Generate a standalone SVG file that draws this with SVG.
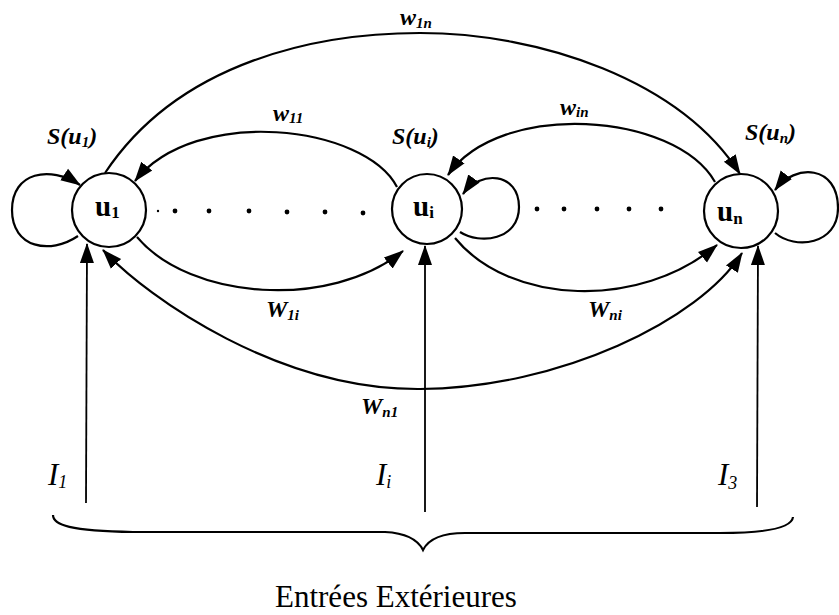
<svg xmlns="http://www.w3.org/2000/svg" width="839" height="615" viewBox="0 0 839 615">
<style>
.node{fill:#fff;stroke:#000;stroke-width:2.2}
.arc{fill:none;stroke:#000;stroke-width:2.2}
.inp{fill:none;stroke:#000;stroke-width:1.8}
.nl{font-family:"Liberation Serif",serif;font-size:29px;font-weight:bold;fill:#000}
.ns{font-size:17px}
.lbl{font-family:"Liberation Serif",serif;font-style:italic;font-weight:bold;font-size:24px;fill:#000}
.sub{font-size:15px}
.big{font-family:"Liberation Serif",serif;font-style:italic;font-size:31px;fill:#000}
.bsub{font-size:18px}
.cap{font-family:"Liberation Serif",serif;font-size:31px;fill:#000}
.dot{fill:#000}
</style>
<defs>
<marker id="ah" markerUnits="userSpaceOnUse" markerWidth="20" markerHeight="16" viewBox="0 0 20 16" refX="19" refY="8" orient="auto-start-reverse">
<path d="M0,1 L20,8 L0,15 z" fill="#000"/>
</marker>
</defs>
<g id="connectors">
<path class="arc" d="M105,173 C180,60 320,33 420,33 C540,33 680,80 740,174" marker-end="url(#ah)"/>
<path class="arc" d="M397,187 C365,125 195,105 135,181" marker-end="url(#ah)"/>
<path class="arc" d="M715,182 C675,112 500,100 448,175" marker-end="url(#ah)"/>
<path class="arc" d="M137,237 C190,300 330,310 403,251" marker-end="url(#ah)"/>
<path class="arc" d="M455,238 C510,305 640,310 717,245" marker-end="url(#ah)"/>
<path class="arc" d="M742,253 C700,320 560,388 420,389 C280,390 150,300 103,250" marker-start="url(#ah)" marker-end="url(#ah)"/>
<path class="arc" d="M78,236 C50,255 12,248 12,210 C12,172 50,165 80,185" marker-end="url(#ah)"/>
<path class="arc" d="M460,232 C480,245 519,240 519,207 C519,172 480,170 463,194" marker-end="url(#ah)"/>
<path class="arc" d="M775,233 C795,250 838,245 838,208 C838,165 795,163 775,190" marker-end="url(#ah)"/>
<path class="inp" d="M86,503 L87,244" marker-end="url(#ah)"/>
<path class="inp" d="M425,512 L425,246" marker-end="url(#ah)"/>
<path class="inp" d="M757,507 L758,246" marker-end="url(#ah)"/>
<path class="arc" d="M53,515 C53,525 70,531 133,532 L385,532 C405,533 418,540 423,550 C428,540 440,533 465,533 L720,533 C770,533 792,527 793,517"/>
</g>
<g id="node-u1">
<circle class="node" cx="109" cy="210" r="37"/>
<text class="nl" x="95" y="216">u<tspan class="ns" dy="2">1</tspan></text>
</g>
<g id="node-ui">
<circle class="node" cx="427" cy="209" r="35"/>
<text class="nl" x="413" y="216">u<tspan class="ns" dy="2">i</tspan></text>
</g>
<g id="node-un">
<circle class="node" cx="741" cy="211" r="37"/>
<text class="nl" x="717" y="221">u<tspan class="ns" dy="3">n</tspan></text>
</g>
<g id="dots">
<circle class="dot" cx="158" cy="211" r="1.2"/>
<circle class="dot" cx="175" cy="211" r="2.4"/>
<circle class="dot" cx="209" cy="211" r="2.4"/>
<circle class="dot" cx="249" cy="211" r="2.4"/>
<circle class="dot" cx="287" cy="212" r="2.4"/>
<circle class="dot" cx="325" cy="212" r="2.4"/>
<circle class="dot" cx="363" cy="213" r="2.4"/>
<circle class="dot" cx="537" cy="209" r="2.4"/>
<circle class="dot" cx="564" cy="209" r="2.4"/>
<circle class="dot" cx="597" cy="209" r="2.4"/>
<circle class="dot" cx="629" cy="209" r="2.4"/>
<circle class="dot" cx="661" cy="209" r="2.4"/>
</g>
<g id="labels">
<text class="lbl" x="400" y="25">w<tspan class="sub" dy="3">1n</tspan></text>
<text class="lbl" x="273" y="121">w<tspan class="sub" dy="2">11</tspan></text>
<text class="lbl" x="560" y="115">w<tspan class="sub" dy="2">in</tspan></text>
<text class="lbl" x="47" y="144">S(u<tspan class="sub" dy="3">1</tspan><tspan dy="-3">)</tspan></text>
<text class="lbl" x="392" y="144">S(u<tspan class="sub" dy="3">i</tspan><tspan dy="-3">)</tspan></text>
<text class="lbl" x="745" y="140">S(u<tspan class="sub" dy="3">n</tspan><tspan dy="-3">)</tspan></text>
<text class="lbl" x="266" y="317">W<tspan class="sub" dy="3">1i</tspan></text>
<text class="lbl" x="588" y="317">W<tspan class="sub" dy="3">ni</tspan></text>
<text class="lbl" x="361" y="414">W<tspan class="sub" dy="3">n1</tspan></text>
<text class="big" x="48" y="485">I<tspan class="bsub" dy="3">1</tspan></text>
<text class="big" x="376" y="485">I<tspan class="bsub" dy="3">i</tspan></text>
<text class="big" x="718" y="485">I<tspan class="bsub" dy="4">3</tspan></text>
<text class="cap" x="275" y="607">Entrées Extérieures</text>
</g>
</svg>
